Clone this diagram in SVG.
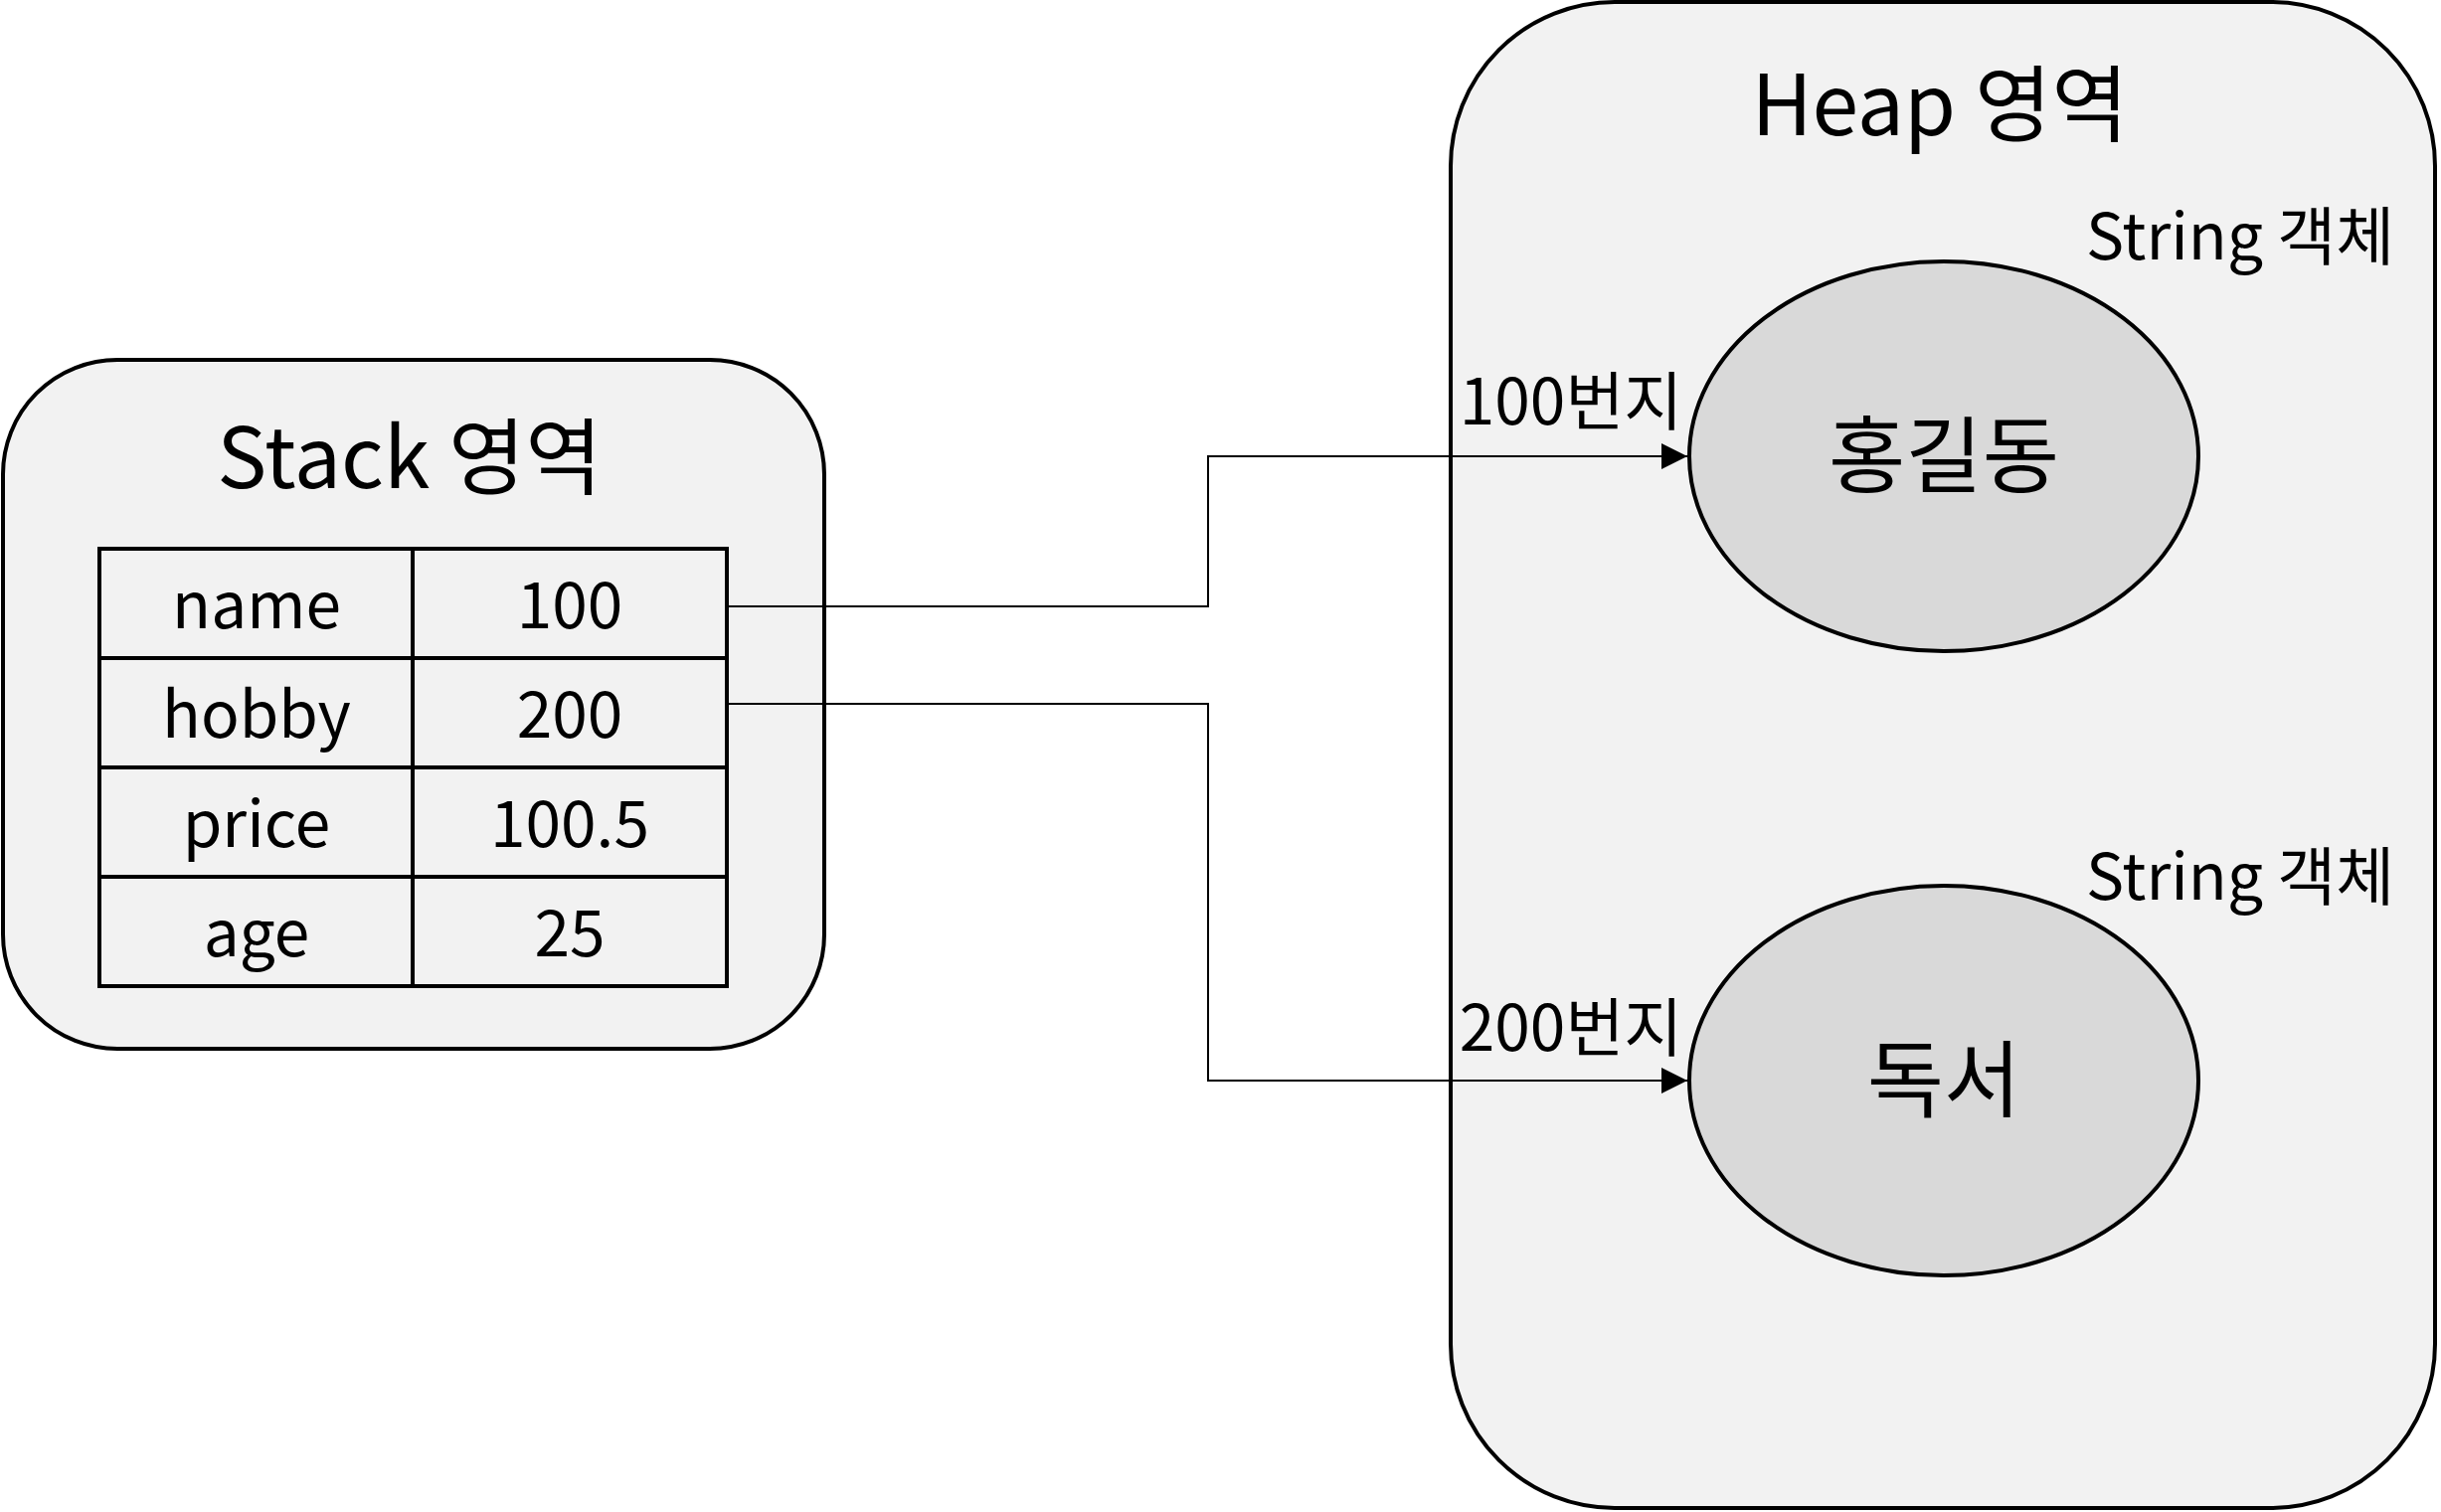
<svg xmlns="http://www.w3.org/2000/svg" width="2455" height="1521" viewBox="0 0 2455 1521">
<defs>
<style>
text{font-family:"Noto Sans CJK KR","Noto Sans",sans-serif;fill:#000;text-anchor:middle}
.area{fill:#f2f2f2;stroke:#000;stroke-width:4}
.cell{fill:none;stroke:#000;stroke-width:4}
.obj{fill:#d9d9d9;stroke:#000;stroke-width:4}
.edge{fill:none;stroke:#000;stroke-width:2}
.t1{font-size:84px}
.t2{font-size:64px}
.t3{font-size:84px}
</style>
<marker id="arr" markerUnits="userSpaceOnUse" markerWidth="28" markerHeight="28" viewBox="0 0 28 28" refX="27" refY="14" orient="auto">
<path d="M1,1 L27,14 L1,27 Z" fill="#000"/>
</marker>
</defs>
<rect width="2455" height="1521" fill="#fff"/>
<g id="stack">
<rect class="area" x="3" y="362" width="826" height="693" rx="115" ry="115"/>
<text class="t1" x="412" y="491">Stack 영역</text>
<g id="table">
<rect class="cell" x="100" y="552" width="631" height="440"/>
<line class="cell" x1="100" y1="662" x2="731" y2="662"/>
<line class="cell" x1="100" y1="772" x2="731" y2="772"/>
<line class="cell" x1="100" y1="882" x2="731" y2="882"/>
<line class="cell" x1="415" y1="552" x2="415" y2="992"/>
<text class="t2" x="258" y="632">name</text>
<text class="t2" x="573" y="632">100</text>
<text class="t2" x="258" y="742">hobby</text>
<text class="t2" x="573" y="742">200</text>
<text class="t2" x="258" y="852">price</text>
<text class="t2" x="573" y="852">100.5</text>
<text class="t2" x="258" y="962">age</text>
<text class="t2" x="573" y="962">25</text>
</g>
</g>
<g id="heap">
<rect class="area" x="1459" y="2" width="990" height="1515" rx="165" ry="165"/>
<text class="t1" x="1951" y="136">Heap 영역</text>
</g>
<g id="obj1">
<text class="t2" x="2253" y="261">String 객체</text>
<ellipse class="obj" cx="1955" cy="459" rx="256" ry="196"/>
<text class="t3" x="1955" y="489">홍길동</text>
</g>
<g id="obj2">
<text class="t2" x="2253" y="905">String 객체</text>
<ellipse class="obj" cx="1955" cy="1087" rx="256" ry="196"/>
<text class="t3" x="1955" y="1117">독서</text>
</g>
<g id="connectors">
<polyline class="edge" points="731,610 1215,610 1215,459 1697,459" marker-end="url(#arr)"/>
<polyline class="edge" points="731,708 1215,708 1215,1087 1697,1087" marker-end="url(#arr)"/>
<text class="t2" x="1580" y="427">100번지</text>
<text class="t2" x="1580" y="1057">200번지</text>
</g>
</svg>
